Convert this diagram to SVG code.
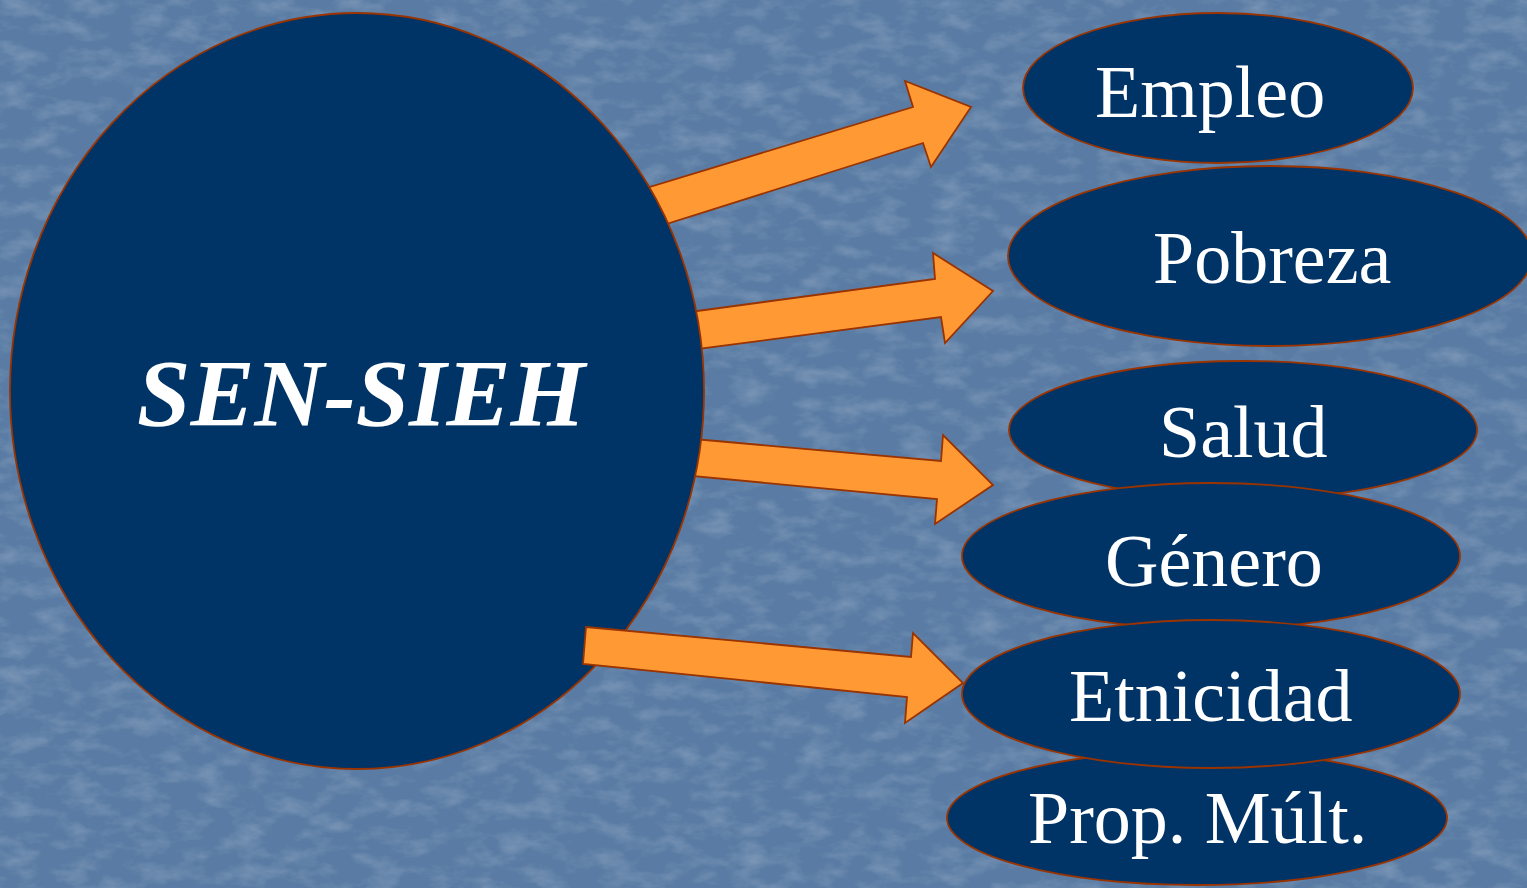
<svg xmlns="http://www.w3.org/2000/svg" width="1527" height="888" viewBox="0 0 1527 888">
  <defs>
    <filter id="tex" x="0" y="0" width="100%" height="100%">
      <feTurbulence type="fractalNoise" baseFrequency="0.03 0.06" numOctaves="4" seed="7" result="n"/>
      <feColorMatrix in="n" type="matrix" values="0 0 0 0 1  0 0 0 0 1  0 0 0 0 1  0 0 1.6 0 -0.7"/>
    </filter>
    <style>
      .node { fill: #003366; stroke: #993300; stroke-width: 1.8; }
      .arrow { fill: #FF9933; stroke: #993300; stroke-width: 1.8; stroke-linejoin: miter; }
      .lbl { fill: #FFFFFF; font-family: "Liberation Serif", "Times New Roman", serif; font-size: 74px; }
      .main { fill: #FFFFFF; font-family: "Liberation Serif", "Times New Roman", serif; font-size: 96px; font-weight: bold; font-style: italic; }
    </style>
  </defs>

  <rect x="0" y="0" width="1527" height="888" fill="#5a7ca4"/>
  <rect x="0" y="0" width="1527" height="888" filter="url(#tex)" opacity="0.25"/>

  <g id="connectors-back">
    <polygon class="arrow" points="597,203 913,107 905,81 971,107 931,167 923,143 619,239"/>
    <polygon class="arrow" points="660,316 935,279 933,253 993,291 945,343 941,317 660,354"/>
    <polygon class="arrow" points="660,436 941,461 943,435 993,485 935,524 937,499 660,473"/>
  </g>

  <g id="sen-sieh">
    <ellipse class="node" cx="357" cy="391" rx="347" ry="378"/>
    <text class="main" x="137" y="426">SEN-SIEH</text>
  </g>

  <g id="connectors">
    <polygon class="arrow" points="586,627 911,657 913,633 963,683 905,723 907,697 583,664"/>
  </g>

  <g id="empleo">
    <ellipse class="node" cx="1218" cy="88" rx="195" ry="75"/>
    <text class="lbl" x="1095" y="117">Empleo</text>
  </g>
  <g id="pobreza">
    <ellipse class="node" cx="1270" cy="256" rx="262" ry="90"/>
    <text class="lbl" x="1153" y="283">Pobreza</text>
  </g>
  <g id="salud">
    <ellipse class="node" cx="1243" cy="430" rx="234" ry="69"/>
    <text class="lbl" x="1159" y="457">Salud</text>
  </g>
  <g id="genero">
    <ellipse class="node" cx="1211" cy="556" rx="249" ry="73"/>
    <text class="lbl" x="1105" y="586">Género</text>
  </g>
  <g id="prop-mult">
    <ellipse class="node" cx="1197" cy="818" rx="250" ry="67"/>
    <text class="lbl" x="1028" y="843">Prop. Múlt.</text>
  </g>
  <g id="etnicidad">
    <ellipse class="node" cx="1211" cy="694" rx="249" ry="74"/>
    <text class="lbl" x="1069" y="721">Etnicidad</text>
  </g>
</svg>
